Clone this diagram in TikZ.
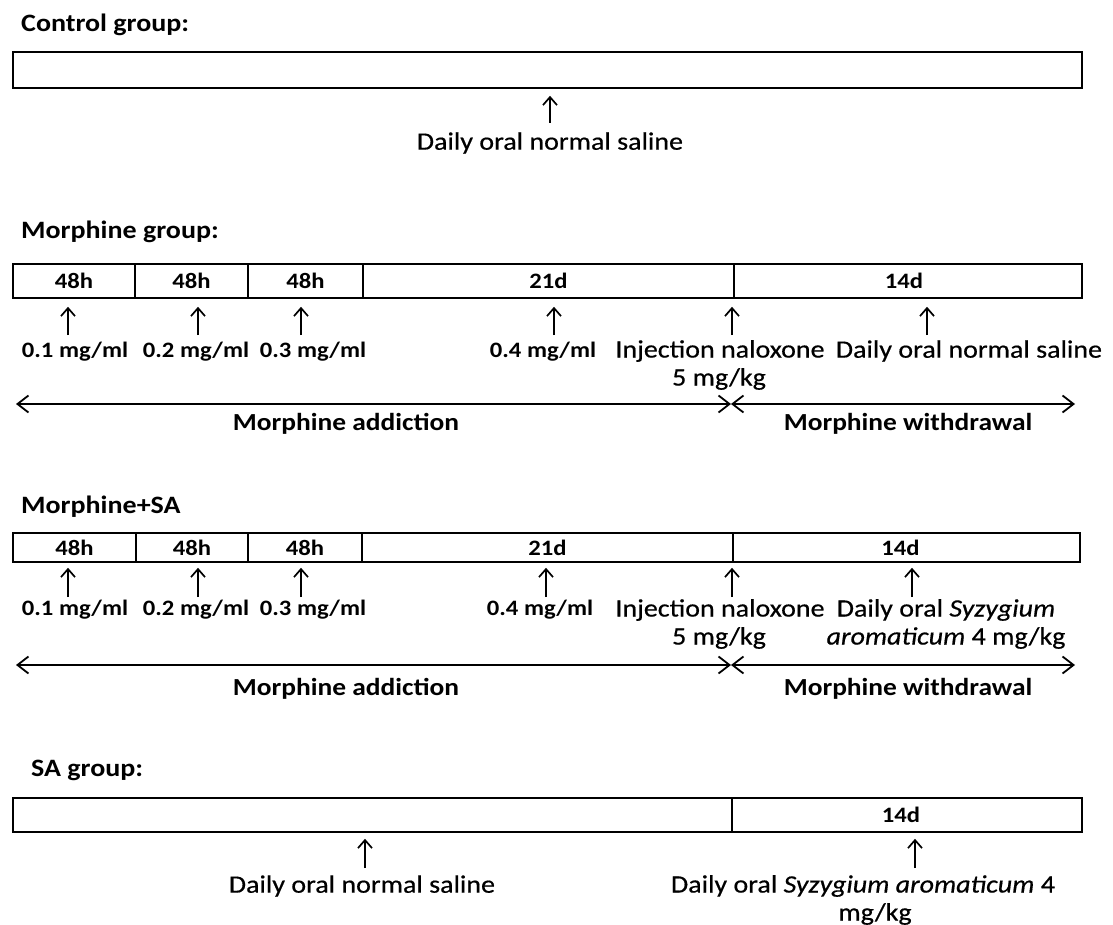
\documentclass[tikz,border=0pt]{standalone}
\usepackage{fontspec}
\setmainfont{Carlito}[FakeStretch=1.12]
\newfontfamily\regfont{Carlito}[FakeStretch=1.12,FakeBold=0.5]
\usetikzlibrary{arrows.meta}
\begin{document}
\begin{tikzpicture}[x=1pt,y=-1pt,
  seg/.style={draw, line width=1.8pt, inner sep=0pt, anchor=north west, font=\fontsize{22}{26}\selectfont\bfseries},
  ttl/.style={anchor=west, inner sep=0pt, font=\fontsize{25}{28}\selectfont\bfseries},
  lbl/.style={inner sep=0pt, font=\fontsize{25}{28}\regfont, align=center},
  dose/.style={inner sep=0pt, font=\fontsize{22}{26}\selectfont\bfseries},
  phase/.style={inner sep=0pt, font=\fontsize{24.5}{28}\selectfont\bfseries},
  up/.style={-{Straight Barb[length=8pt,width=14pt,line width=1.7pt]}, line width=1.7pt},
  span/.style={{Straight Barb[length=11pt,width=17pt,line width=1.8pt]}-{Straight Barb[length=11pt,width=17pt,line width=1.8pt]}, line width=1.6pt}]
\useasboundingbox (0,0) rectangle (1113,925);
\fill[white] (0,0) rectangle (1113,925);

% ---------------- Control group
\node[ttl] (tc) at (21,25) {Control group:};
\node[seg, minimum width=1069, minimum height=36] (c0) at (12,51) {};
\coordinate (ca) at (550,123);
\draw[up, shorten >=7pt] (ca) -- (ca |- c0.south);
\node[lbl] (cl) at (550,143) {Daily oral normal saline};

% ---------------- Morphine group
\node[ttl] (tm) at (21,232) {Morphine group:};
\node[seg, minimum width=122, minimum height=34] (m1) at (12,263) {48h};
\node[seg, minimum width=113, minimum height=34] (m2) at (134,263) {48h};
\node[seg, minimum width=115, minimum height=34] (m3) at (247,263) {48h};
\node[seg, minimum width=371, minimum height=34] (m4) at (362,263) {21d};
\node[seg, minimum width=348, minimum height=34] (m5) at (733,263) {\makebox[0pt]{\hspace*{-8pt}14d}};
\foreach \i/\x in {1/68,2/198,3/301,4/554,5/732,6/927}{
  \coordinate (ma\i) at (\x,335);
}
\draw[up, shorten >=8pt] (ma1) -- (ma1 |- m1.south);
\draw[up, shorten >=8pt] (ma2) -- (ma2 |- m2.south);
\draw[up, shorten >=8pt] (ma3) -- (ma3 |- m3.south);
\draw[up, shorten >=8pt] (ma4) -- (ma4 |- m4.south);
\draw[up, shorten >=8pt] (ma5) -- (ma5 |- m5.south);
\draw[up, shorten >=8pt] (ma6) -- (ma6 |- m5.south);
\node[dose] (md1) at (75,352) {0.1 mg/ml};
\node[dose] (md2) at (196,352) {0.2 mg/ml};
\node[dose] (md3) at (313,352) {0.3 mg/ml};
\node[dose] (md4) at (543,352) {0.4 mg/ml};
\node[lbl] (mn) at (720,351) {Injection naloxone};
\node[lbl] (mk) at (719,379) {5 mg/kg};
\node[lbl] (ms) at (969,351) {Daily oral normal saline};
\coordinate (mL) at (16,404);
\coordinate (mM) at (731,404);
\coordinate (mR) at (1075,404);
\draw[span] (mL) -- (mM);
\draw[span] (mM) -- (mR);
\node[phase] (mpa) at (346,424) {Morphine addiction};
\node[phase] (mpw) at (908,424) {Morphine withdrawal};

% ---------------- Morphine+SA
\node[ttl] (ts) at (21,507) {Morphine+SA};
\node[seg, minimum width=123, minimum height=29] (s1) at (12,532) {48h};
\node[seg, minimum width=112, minimum height=29] (s2) at (135,532) {48h};
\node[seg, minimum width=114, minimum height=29] (s3) at (247,532) {48h};
\node[seg, minimum width=371, minimum height=29] (s4) at (361,532) {21d};
\node[seg, minimum width=347, minimum height=29] (s5) at (732,532) {\makebox[0pt]{\hspace*{-12pt}14d}};
\foreach \i/\x in {1/68,2/198,3/301,4/546,5/732,6/912}{
  \coordinate (sa\i) at (\x,597);
}
\draw[up, shorten >=5pt] (sa1) -- (sa1 |- s1.south);
\draw[up, shorten >=5pt] (sa2) -- (sa2 |- s2.south);
\draw[up, shorten >=5pt] (sa3) -- (sa3 |- s3.south);
\draw[up, shorten >=5pt] (sa4) -- (sa4 |- s4.south);
\draw[up, shorten >=5pt] (sa5) -- (sa5 |- s5.south);
\draw[up, shorten >=5pt] (sa6) -- (sa6 |- s5.south);
\node[dose] (sd1) at (75,610) {0.1 mg/ml};
\node[dose] (sd2) at (196,610) {0.2 mg/ml};
\node[dose] (sd3) at (313,610) {0.3 mg/ml};
\node[dose] (sd4) at (540,610) {0.4 mg/ml};
\node[lbl] (sn) at (720,610) {Injection naloxone};
\node[lbl] (sk) at (719,638) {5 mg/kg};
\node[lbl] (ss) at (946,624) {Daily oral \textit{Syzygium}\\\textit{aromaticum} 4 mg/kg};
\coordinate (sL) at (16,665);
\coordinate (sM) at (731,665);
\coordinate (sR) at (1075,665);
\draw[span] (sL) -- (sM);
\draw[span] (sM) -- (sR);
\node[phase] (spa) at (346,689) {Morphine addiction};
\node[phase] (spw) at (908,689) {Morphine withdrawal};

% ---------------- SA group
\node[ttl] (tsa) at (31,770) {SA group:};
\node[seg, minimum width=719, minimum height=34] (g1) at (12,797) {};
\node[seg, minimum width=350, minimum height=34] (g2) at (731,797) {\makebox[0pt]{\hspace*{-12pt}14d}};
\coordinate (ga1) at (365,868);
\coordinate (ga2) at (915,868);
\draw[up, shorten >=6pt] (ga1) -- (ga1 |- g1.south);
\draw[up, shorten >=6pt] (ga2) -- (ga2 |- g2.south);
\node[lbl] (gl1) at (362,886) {Daily oral normal saline};
\node[lbl] (gl2) at (863,886) {Daily oral \textit{Syzygium aromaticum} 4};
\node[lbl] (gl3) at (875,914) {mg/kg};
\end{tikzpicture}
\end{document}
